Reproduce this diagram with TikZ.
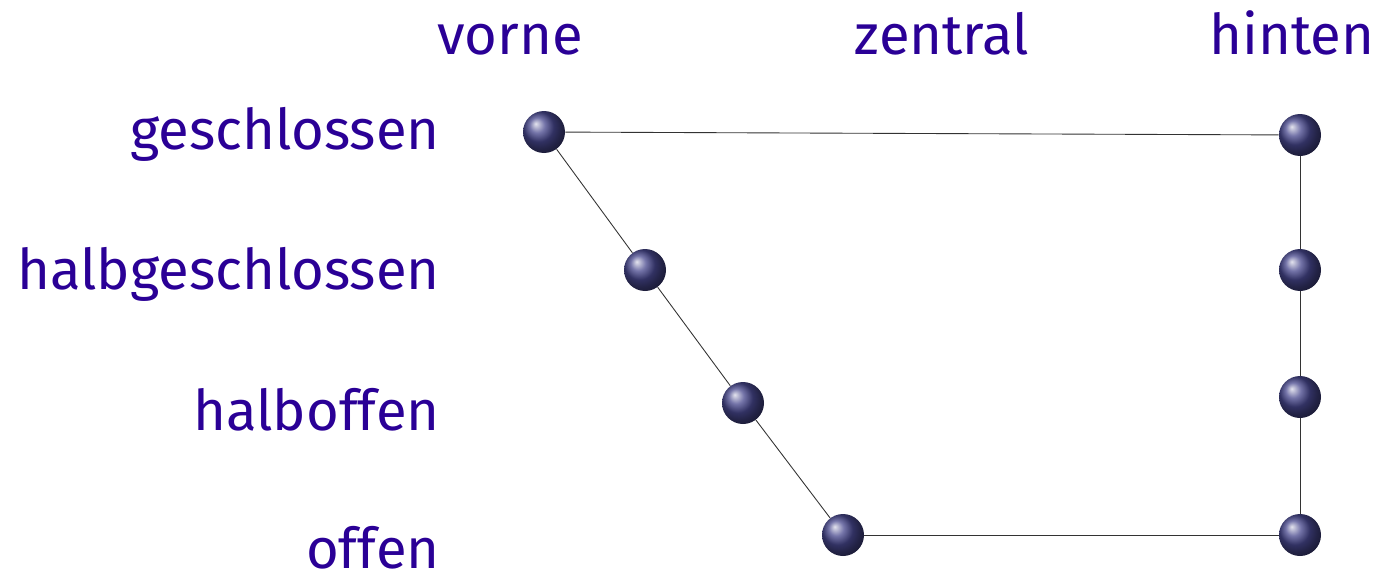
\documentclass[tikz,border=0pt]{standalone}
\usepackage{fontspec}
\setmainfont{Fira Sans}
\definecolor{vowelblue}{RGB}{42,0,150}
\definecolor{ballnavy}{RGB}{70,70,140}
\tikzset{
  ball/.style={circle,inner sep=0pt,minimum size=0.84cm,shading=ball,ball color=ballnavy},
  lbl/.style={text=vowelblue,font=\fontsize{32}{38}\selectfont,inner sep=0pt},
  edge/.style={draw=black!80,line width=0.5pt}
}
\begin{document}
\begin{tikzpicture}[x=0.02cm,y=-0.02cm]
\useasboundingbox (0,0) rectangle (1383,572);
% headers
\node[lbl,anchor=base] (vorne) at (510,54) {vorne};
\node[lbl,anchor=base] (zentral) at (942,54) {zentral};
\node[lbl,anchor=base] (hinten) at (1292,54) {hinten};
% rows
\node[lbl,anchor=base east] (gs) at (440,149) {geschlossen};
\node[lbl,anchor=base east] (hgs) at (440,289) {halbgeschlossen};
\node[lbl,anchor=base east] (ho) at (440,430) {halboffen};
\node[lbl,anchor=base east] (of) at (440,568) {offen};
% vowels
\node[ball] (v1) at (544,132) {};
\node[ball] (v2) at (645,270) {};
\node[ball] (v3) at (743,403) {};
\node[ball] (v4) at (843,535) {};
\node[ball] (h1) at (1300,135) {};
\node[ball] (h2) at (1300,270) {};
\node[ball] (h3) at (1300,397) {};
\node[ball] (h4) at (1300,535) {};
\draw[edge] (v1) -- (h1);
\draw[edge] (v1) -- (v2) -- (v3) -- (v4);
\draw[edge] (v4) -- (h4);
\draw[edge] (h1) -- (h2) -- (h3) -- (h4);
\end{tikzpicture}
\end{document}
